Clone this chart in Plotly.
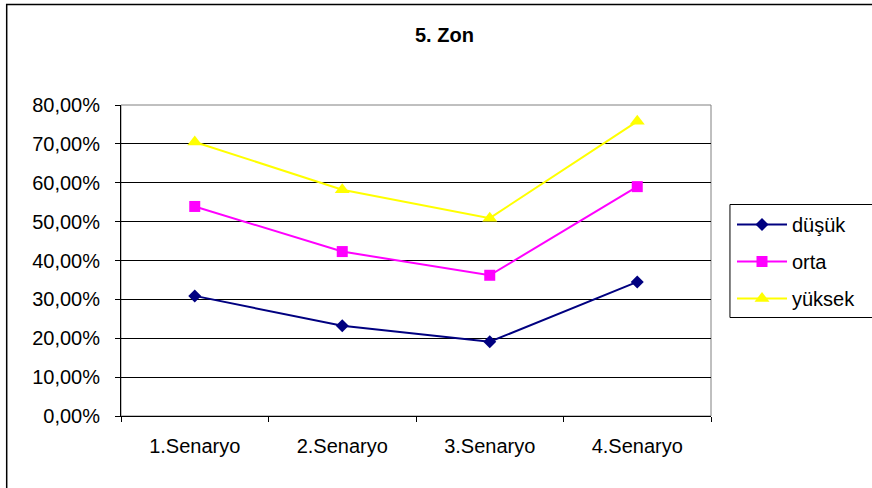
import plotly.graph_objects as go

# Scenario categories and zone-5 ratios (fractions)
categories = ["1.Senaryo", "2.Senaryo", "3.Senaryo", "4.Senaryo"]
dusuk = [0.309, 0.232, 0.191, 0.345]
orta = [0.539, 0.423, 0.362, 0.590]
yuksek = [0.705, 0.582, 0.509, 0.758]

y_tick_values = [0.0, 0.1, 0.2, 0.3, 0.4, 0.5, 0.6, 0.7, 0.8]
y_tick_labels = ["0,00%", "10,00%", "20,00%", "30,00%", "40,00%",
                 "50,00%", "60,00%", "70,00%", "80,00%"]

series = [
    ("düşük", dusuk, "#000080", "diamond", 10),
    ("orta", orta, "#FF00FF", "square", 11),
    ("yüksek", yuksek, "#FFFF00", "triangle-up", 13),
]

fig = go.Figure()
for name, vals, color, symbol, size in series:
    fig.add_trace(go.Scatter(
        x=categories, y=vals, name=name, legendgroup=name,
        mode="lines+markers",
        line=dict(color=color, width=2),
        marker=dict(symbol=symbol, size=size, color=color,
                    line=dict(width=0)),
    ))

W, H = 872, 488
L, R, T, B = 121, 160, 105, 72
pw, ph = W - L - R, H - T - B

def px_to_paper_x(px):
    return (px - L) / pw

def px_to_paper_y(py):
    return (H - B - py) / ph

FONT = "Liberation Sans, Arial, sans-serif"

fig.update_layout(
    width=W, height=H,
    margin=dict(l=L, r=R, t=T, b=B),
    paper_bgcolor="white", plot_bgcolor="white",
    font=dict(family=FONT, size=20, color="black"),
    title=dict(text="<b>5. Zon</b>", x=px_to_paper_x(445), xref="paper",
               xanchor="center", y=1 - 35 / H, yanchor="middle",
               font=dict(size=20)),
    showlegend=True,
    legend=dict(x=px_to_paper_x(732), y=px_to_paper_y(205),
                xanchor="left", yanchor="top",
                borderwidth=0, bgcolor="rgba(0,0,0,0)",
                font=dict(size=20), tracegroupgap=8, itemwidth=50,
                traceorder="grouped"),
    xaxis=dict(type="category", range=[-0.5, 3.5],
               showline=True, linecolor="black", linewidth=1,
               ticks="outside", tickson="boundaries", ticklen=5,
               tickcolor="black", showgrid=False, mirror=False,
               ticklabelstandoff=12, tickfont=dict(size=20)),
    yaxis=dict(range=[0, 0.8], tickvals=y_tick_values, ticktext=y_tick_labels,
               showline=True, linecolor="black", linewidth=1,
               ticks="outside", ticklen=5, tickcolor="black",
               showgrid=True, gridcolor="black", gridwidth=1,
               zeroline=False, ticklabelstandoff=11, tickfont=dict(size=20)),
    shapes=[
        # plot area frame (top/right edges)
        dict(type="rect", xref="paper", yref="paper", x0=0, x1=1, y0=0, y1=1,
             line=dict(color="#808080", width=1), layer="below"),
        # outer chart border
        dict(type="rect", xref="paper", yref="paper",
             x0=px_to_paper_x(6.5), x1=px_to_paper_x(890),
             y0=px_to_paper_y(500), y1=px_to_paper_y(4.5),
             line=dict(color="black", width=1.5)),
        # legend frame
        dict(type="rect", xref="paper", yref="paper",
             x0=px_to_paper_x(731), x1=px_to_paper_x(890),
             y0=px_to_paper_y(317.5), y1=px_to_paper_y(204.5),
             line=dict(color="black", width=1)),
    ],
)

fig.write_html("out.html")
